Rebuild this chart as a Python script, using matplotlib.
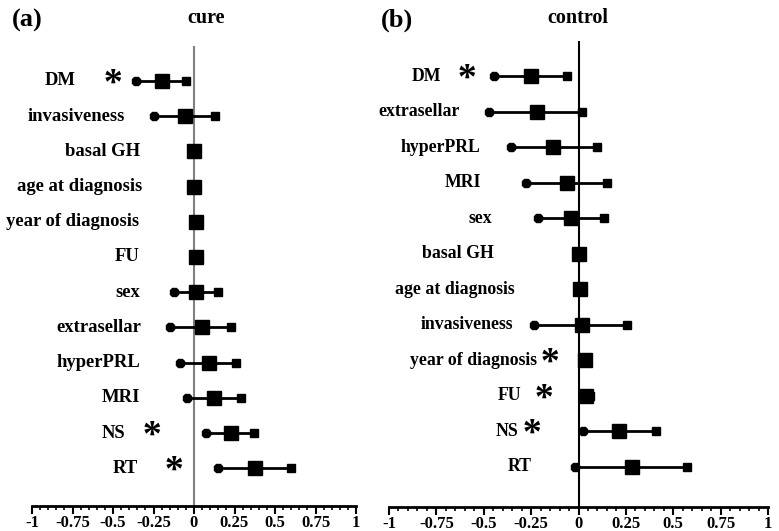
import numpy as np
import matplotlib
matplotlib.use("Agg")
import matplotlib.pyplot as plt
from matplotlib.textpath import TextPath
from matplotlib.path import Path
from matplotlib.font_manager import FontProperties
from matplotlib.ticker import MultipleLocator

# panel (a) cure
cure_vars = ['DM', 'invasiveness', 'basal GH', 'age at diagnosis', 'year of diagnosis',
             'FU', 'sex', 'extrasellar', 'hyperPRL', 'MRI', 'NS', 'RT']
cure_est = [-0.20, -0.058, 0.003, 0.0, 0.01, 0.01, 0.014, 0.047, 0.09, 0.123, 0.226, 0.378]
cure_lo = [-0.358, -0.245, 0.003, 0.0, 0.01, 0.01, -0.126, -0.146, -0.089, -0.045, 0.072, 0.15]
cure_hi = [-0.05, 0.13, 0.003, 0.0, 0.01, 0.01, 0.148, 0.228, 0.257, 0.292, 0.372, 0.596]
cure_sig = ['DM', 'NS', 'RT']

# panel (b) control
ctrl_vars = ['DM', 'extrasellar', 'hyperPRL', 'MRI', 'sex', 'basal GH', 'age at diagnosis',
             'invasiveness', 'year of diagnosis', 'FU', 'NS', 'RT']
ctrl_est = [-0.252, -0.22, -0.134, -0.063, -0.04, 0.003, 0.008, 0.016, 0.033, 0.042, 0.214, 0.281]
ctrl_lo = [-0.445, -0.472, -0.357, -0.276, -0.215, 0.003, 0.008, -0.236, 0.033, 0.025, 0.026, -0.016]
ctrl_hi = [-0.06, 0.02, 0.095, 0.148, 0.133, 0.003, 0.008, 0.258, 0.033, 0.062, 0.408, 0.575]
ctrl_sig = ['DM', 'year of diagnosis', 'FU', 'NS']

tick_vals = [-1, -0.75, -0.5, -0.25, 0, 0.25, 0.5, 0.75, 1]
tick_text = ['-1', '-0.75', '-0.5', '-0.25', '0', '0.25', '0.5', '0.75', '1']

# hand placed label / asterisk positions (x in data units)
cure_lab_x = [-0.728, -0.426, -0.333, -0.321, -0.340, -0.333, -0.333, -0.327, -0.333, -0.333, -0.426, -0.346]
cure_ast_x = {'DM': -0.506, 'NS': -0.267, 'RT': -0.131}
ctrl_lab_x = [-0.726, -0.626, -0.515, -0.515, -0.457, -0.447, -0.336, -0.347, -0.220, -0.299, -0.320, -0.246]
ctrl_ast_x = {'DM': -0.594, 'year of diagnosis': -0.157, 'FU': -0.188, 'NS': -0.252}

serif = 'Liberation Serif'

tp = TextPath((0, 0), '*', prop=FontProperties(family=serif, weight='bold'))
v = tp.vertices
c = (v.min(axis=0) + v.max(axis=0)) / 2
star = Path(v - c, tp.codes)

fig = plt.figure(figsize=(7.79, 5.31), dpi=100)
W, H = 779, 531


def panel(rect, names, est, lo, hi, sig, lab_x, ast_x, zcol, ylim, fs):
    ax = fig.add_axes(rect)
    y = np.arange(len(names))
    ax.axvline(0, color=zcol, lw=1.5, zorder=1)
    for i in range(len(names)):
        if hi[i] - lo[i] > 0.001:
            ax.plot([lo[i], hi[i]], [y[i], y[i]], color='black', lw=2, zorder=2)
            ax.plot(lo[i], y[i], marker='8', ms=6, color='black', zorder=3)
            ax.plot(hi[i], y[i], marker='s', ms=5.5, color='black', zorder=3)
        ax.plot(est[i], y[i], marker='s', ms=10, color='black', zorder=4)
        ax.text(lab_x[i], y[i], names[i], ha='right', va='center', fontsize=fs,
                fontweight='bold', family=serif)
        if names[i] in sig:
            ax.plot(ast_x[names[i]], y[i], marker=star, ms=18, color='black',
                    markeredgewidth=0, zorder=3)
    ax.set_xlim(-1, 1)
    ax.set_ylim(*ylim)
    for s in ['top', 'right', 'left']:
        ax.spines[s].set_visible(False)
    ax.spines['bottom'].set_linewidth(2)
    ax.set_yticks([])
    ax.set_xticks(tick_vals)
    ax.set_xticklabels(tick_text, fontsize=12, fontweight='bold', family=serif)
    ax.xaxis.set_minor_locator(MultipleLocator(0.05))
    ax.tick_params(axis='x', which='major', length=6, width=1.5, pad=0.5)
    ax.tick_params(axis='x', which='minor', length=3, width=1.2)
    return ax


panel([32 / W, 25 / H, 324 / W, 460 / H], cure_vars, cure_est, cure_lo, cure_hi, cure_sig,
      cure_lab_x, cure_ast_x, '#808080', (12.07, -0.99), 13.4)
panel([389 / W, 24 / H, 379 / W, 466 / H], ctrl_vars, ctrl_est, ctrl_lo, ctrl_hi, ctrl_sig,
      ctrl_lab_x, ctrl_ast_x, 'black', (12.14, -0.986), 12.8)

fig.text(206 / W, 1 - 18 / H, 'cure', ha='center', va='center', fontsize=14.5,
         fontweight='bold', family=serif)
fig.text(578 / W, 1 - 18 / H, 'control', ha='center', va='center', fontsize=14.5,
         fontweight='bold', family=serif)
fig.text(27 / W, 1 - 20 / H, '(a)', ha='center', va='center', fontsize=19,
         fontweight='bold', family=serif)
fig.text(397 / W, 1 - 20 / H, '(b)', ha='center', va='center', fontsize=19,
         fontweight='bold', family=serif)

fig.savefig('out.png', dpi=100)
